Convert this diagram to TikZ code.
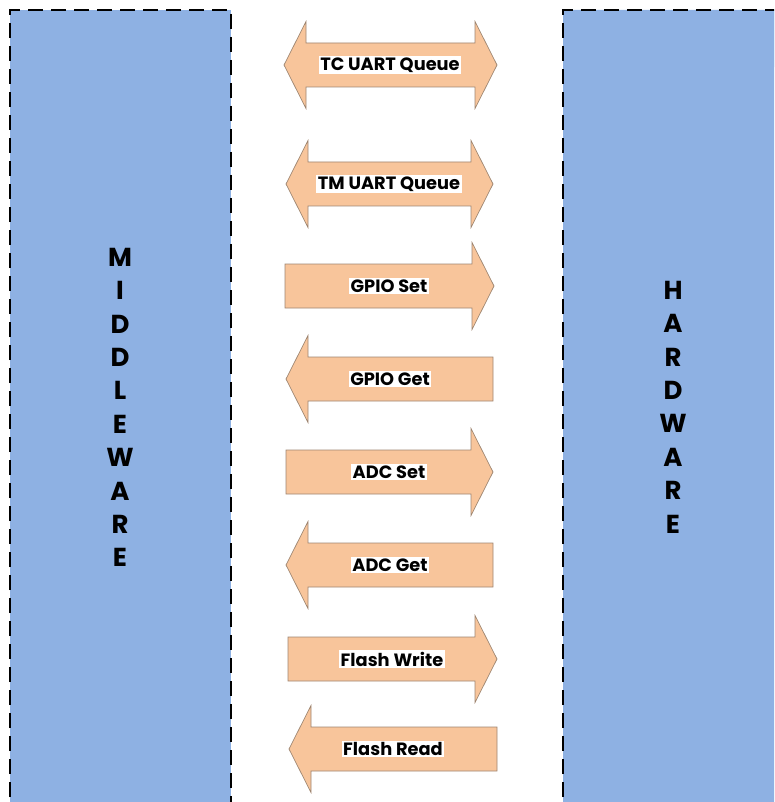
\documentclass[tikz,border=0pt]{standalone}
\usepackage{fontspec}
\setmainfont{Poppins}
\begin{document}
\begin{tikzpicture}[x=1pt,y=-1pt,
  panel/.style={fill=panelblue,draw=black,line width=2pt,dash pattern=on 15pt off 8pt},
  flow/.style={fill=flowfill,draw=flowline,line width=0.7pt,line join=miter},
  tag/.style={fill=white,inner sep=1.5pt,text=black,font=\bfseries\fontsize{17.8}{20}\selectfont},
  vword/.style={align=center,font=\bfseries\fontsize{26}{33.4}\selectfont}]
\definecolor{panelblue}{HTML}{8EB1E3}
\definecolor{flowfill}{HTML}{F8C59B}
\definecolor{flowline}{HTML}{9E8672}
\useasboundingbox (0,0) rectangle (774,802);
\begin{scope}
\clip (0,0) rectangle (774,802);
\draw[panel] (10,820) -- (10,10) -- (231,10) -- (231,820);
\draw[panel] (563,820) -- (563,10) -- (790,10);
\fill[panelblue] (564,11) rectangle (780,810);
\end{scope}
% vertical captions
\node[vword] (mw) at (120,407.5) {M\\I\\D\\D\\L\\E\\W\\A\\R\\E};
\node[vword] (hw) at (673,407) {H\\A\\R\\D\\W\\A\\R\\E};
% double arrows (left tip, right tip, centre y)
\newcommand{\dblarrow}[3]{%
  \draw[flow] (#1,#3) -- (#1+22,#3-43.5) -- (#1+22,#3-22) -- (#2-22,#3-22) -- (#2-22,#3-43.5)
    -- (#2,#3) -- (#2-22,#3+43.5) -- (#2-22,#3+22) -- (#1+22,#3+22) -- (#1+22,#3+43.5) -- cycle;}
% right-pointing arrows (tail x, tip x, centre y)
\newcommand{\rgtarrow}[3]{%
  \draw[flow] (#1,#3-22) -- (#2-22,#3-22) -- (#2-22,#3-43.5) -- (#2,#3)
    -- (#2-22,#3+43.5) -- (#2-22,#3+22) -- (#1,#3+22) -- cycle;}
% left-pointing arrows (tip x, tail x, centre y)
\newcommand{\lftarrow}[3]{%
  \draw[flow] (#1,#3) -- (#1+22,#3-43.5) -- (#1+22,#3-22) -- (#2,#3-22)
    -- (#2,#3+22) -- (#1+22,#3+22) -- (#1+22,#3+43.5) -- cycle;}
\dblarrow{284}{497}{65}
\dblarrow{286}{493}{184}
\rgtarrow{285}{494}{286}
\lftarrow{286}{493}{379}
\rgtarrow{286}{493}{472}
\lftarrow{286}{493}{565}
\rgtarrow{288}{497}{659}
\lftarrow{289}{497}{749}
% labels
\node[tag] (tc) at (390,65) {TC UART Queue};
\node[tag] (tm) at (389,184) {TM UART Queue};
\node[tag] (gs) at (389,286) {GPIO Set};
\node[tag] (gg) at (390,379) {GPIO Get};
\node[tag] (as) at (389,472) {ADC Set};
\node[tag] (ag) at (390,565) {ADC Get};
\node[tag] (fw) at (392,659) {Flash Write};
\node[tag] (fr) at (393,749) {Flash Read};
\end{tikzpicture}
\end{document}
